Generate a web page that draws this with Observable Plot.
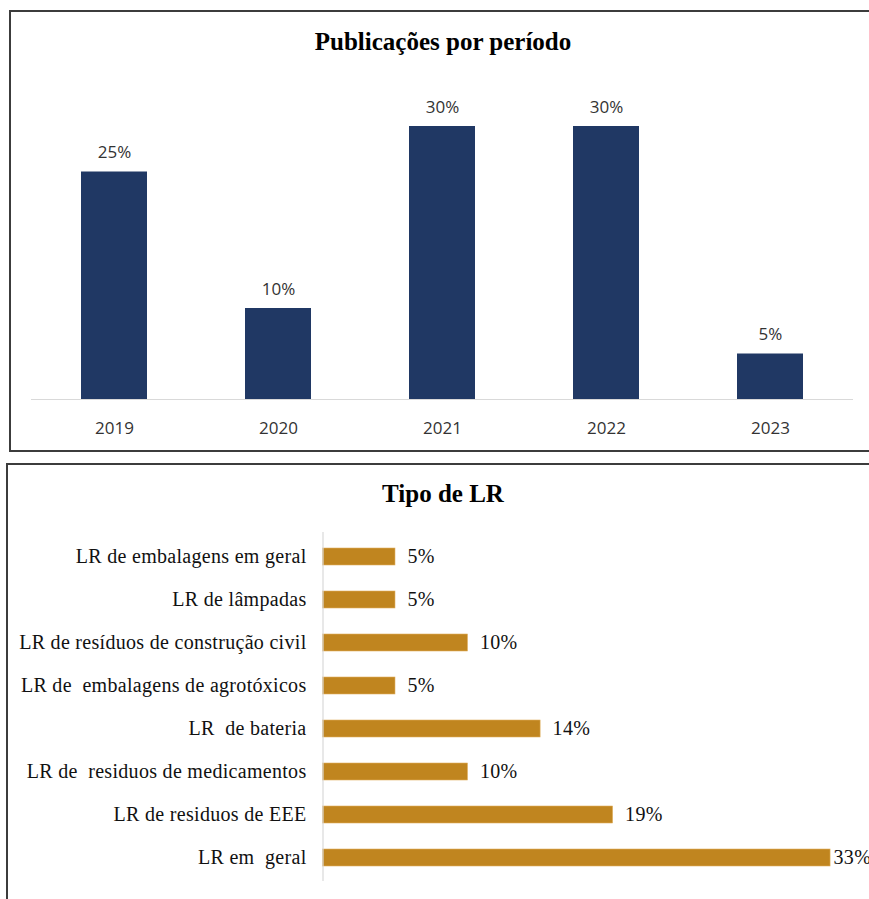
<!DOCTYPE html>
<html>
<head>
<meta charset="utf-8">
<script src="https://cdn.jsdelivr.net/npm/d3@7"></script>
<script src="https://cdn.jsdelivr.net/npm/@observablehq/plot@0.6"></script>
<style>
  html, body { margin: 0; padding: 0; background: #fff; width: 869px; height: 899px; overflow: hidden; }
  .box { position: absolute; border: 2px solid #3c3c3c; box-sizing: border-box; }
  .title { position: absolute; left: 0; width: 886px; text-align: center; font-family: "Liberation Serif", "Times New Roman", serif; font-weight: bold; font-size: 25px; line-height: 25px; color: #000; }
  .chart { position: absolute; left: 0; }
</style>
</head>
<body>
<div class="box" style="left:9px; top:10px; width:880px; height:442px;"></div>
<div class="box" style="left:6px; top:463px; width:890px; height:460px;"></div>
<div class="title" style="top:29px;">Publicações por período</div>
<div class="title" style="top:481px;">Tipo de LR</div>
<div id="topChart" class="chart" style="top:0px;"></div>
<div id="bottomChart" class="chart" style="top:464px;"></div>
<script>
// Top chart data
const years = ["2019", "2020", "2021", "2022", "2023"];
const pubShare = [25, 10, 30, 30, 5];

// Bottom chart data
const lrTypes = [
  "LR de embalagens em geral",
  "LR de lâmpadas",
  "LR de resíduos de construção civil",
  "LR de  embalagens de agrotóxicos",
  "LR  de bateria",
  "LR de  residuos de medicamentos",
  "LR de residuos de EEE",
  "LR em  geral"
];
const lrShare = [4.76, 4.76, 9.52, 4.76, 14.29, 9.52, 19.05, 33.33];

const pubData = years.map((y, i) => ({year: y, value: pubShare[i]}));
const lrData = lrTypes.map((t, i) => ({type: t, value: lrShare[i]}));
const pct = d => Math.round(d.value) + "%";

const topPlot = Plot.plot({
  width: 869,
  height: 450,
  marginLeft: 31,
  marginRight: 16,
  marginTop: 126,
  marginBottom: 51,
  style: {fontFamily: "'Open Sans', sans-serif", fontSize: "17px", color: "#333", background: "transparent"},
  x: {domain: years, paddingInner: 0.6, paddingOuter: 0.3, tickSize: 0, tickPadding: 22, label: null},
  y: {domain: [0, 30], axis: null},
  marks: [
    Plot.barY(pubData, {x: "year", y: "value", fill: "#203864"}),
    Plot.ruleY([0], {stroke: "#d9d9d9", strokeWidth: 1.2}),
    Plot.text(pubData, {x: "year", y: "value", text: pct, dy: -19, fill: "#333"})
  ]
});
document.getElementById("topChart").appendChild(topPlot);

const maxLR = d3.max(lrShare);
const bottomPlot = Plot.plot({
  width: 869,
  height: 435,
  marginLeft: 322.5,
  marginRight: 13.5,
  marginTop: 68,
  marginBottom: 18,
  style: {fontFamily: "'Liberation Serif', 'Times New Roman', serif", fontSize: "20px", letterSpacing: "0.3px", color: "#111", background: "transparent", overflow: "visible"},
  y: {domain: lrTypes, paddingInner: 0.61, paddingOuter: 0.305, tickSize: 0, tickPadding: 16.5, label: null},
  x: {domain: [0, 35], axis: null},
  marks: [
    Plot.barX(lrData, {y: "type", x: "value", fill: "#c0851f", stroke: "#e0b060", strokeWidth: 0.6}),
    Plot.ruleX([0], {stroke: "#d9d9d9", strokeWidth: 1.2}),
    Plot.text(lrData.filter(d => d.value < maxLR), {y: "type", x: "value", text: pct, textAnchor: "start", dx: 12, fill: "#111"}),
    Plot.text(lrData.filter(d => d.value === maxLR), {y: "type", x: "value", text: pct, textAnchor: "start", dx: 3, fill: "#111"})
  ]
});
document.getElementById("bottomChart").appendChild(bottomPlot);
</script>
</body>
</html>
